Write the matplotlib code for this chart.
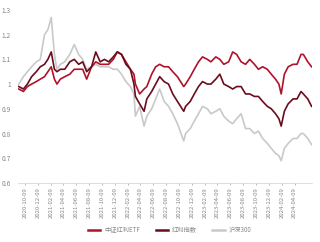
import matplotlib
matplotlib.use('Agg')
import matplotlib.pyplot as plt
import matplotlib.dates as mdates
import matplotlib.ticker as mticker
import pandas as pd

plt.rcParams['font.family'] = ['Noto Sans CJK SC', 'DejaVu Sans']

dates = pd.to_datetime([
    '2020-09-09', '2020-10-01', '2020-10-20', '2020-11-09', '2020-12-01', '2020-12-20',
    '2021-01-09', '2021-01-25', '2021-02-10', '2021-02-25', '2021-03-09', '2021-03-25',
    '2021-04-15', '2021-05-09', '2021-05-30', '2021-06-20', '2021-07-09', '2021-07-28',
    '2021-08-20', '2021-09-09', '2021-09-30', '2021-10-20', '2021-11-09', '2021-12-01',
    '2021-12-20', '2022-01-09', '2022-01-30', '2022-02-20', '2022-03-09', '2022-03-16',
    '2022-04-05', '2022-04-26', '2022-05-09', '2022-06-01', '2022-06-20', '2022-07-09',
    '2022-07-30', '2022-08-20', '2022-09-09', '2022-10-01', '2022-10-31', '2022-11-09',
    '2022-12-01', '2022-12-20', '2023-01-09', '2023-01-28', '2023-02-20', '2023-03-09',
    '2023-04-01', '2023-04-20', '2023-05-09', '2023-06-01', '2023-06-20', '2023-07-09',
    '2023-07-30', '2023-08-20', '2023-09-09', '2023-10-01', '2023-10-20', '2023-11-09',
    '2023-12-01', '2023-12-20', '2024-01-09', '2024-01-25', '2024-02-05', '2024-02-20',
    '2024-03-09', '2024-04-01', '2024-04-20', '2024-05-09', '2024-05-20', '2024-06-10',
    '2024-06-28'])

etf = [0.98, 0.97, 0.99, 1.00, 1.01, 1.02, 1.03, 1.05, 1.07, 1.02, 1.00, 1.02,
       1.03, 1.04, 1.06, 1.06, 1.06, 1.02, 1.07, 1.09, 1.08, 1.08, 1.08, 1.10,
       1.13, 1.12, 1.09, 1.06, 1.04, 1.00, 0.96, 0.98, 0.99, 1.04, 1.07, 1.08,
       1.07, 1.07, 1.05, 1.03, 0.99, 1.00, 1.03, 1.06, 1.09, 1.11, 1.10, 1.09,
       1.11, 1.10, 1.08, 1.09, 1.13, 1.12, 1.09, 1.08, 1.10, 1.08, 1.06, 1.07,
       1.06, 1.04, 1.02, 1.00, 0.96, 1.04, 1.07, 1.08, 1.08, 1.12, 1.12, 1.09,
       1.07]

index = [0.99, 0.98, 1.00, 1.03, 1.05, 1.07, 1.08, 1.10, 1.13, 1.06, 1.05, 1.06,
         1.06, 1.09, 1.10, 1.08, 1.09, 1.05, 1.07, 1.13, 1.09, 1.10, 1.09, 1.11,
         1.13, 1.12, 1.08, 1.06, 1.00, 0.95, 0.92, 0.89, 0.94, 0.97, 1.00, 1.03,
         1.01, 1.00, 0.96, 0.93, 0.89, 0.91, 0.93, 0.96, 0.99, 1.01, 1.00, 1.00,
         1.02, 1.04, 1.00, 0.99, 0.98, 0.99, 0.99, 0.96, 0.96, 0.95, 0.95, 0.93,
         0.91, 0.90, 0.88, 0.86, 0.83, 0.89, 0.92, 0.94, 0.94, 0.97, 0.96, 0.94,
         0.91]

hs300 = [1.00, 1.03, 1.05, 1.07, 1.09, 1.10, 1.20, 1.22, 1.27, 1.12, 1.06, 1.08,
         1.09, 1.12, 1.16, 1.12, 1.10, 1.06, 1.07, 1.08, 1.07, 1.07, 1.07, 1.06,
         1.06, 1.04, 1.01, 0.99, 0.96, 0.87, 0.91, 0.83, 0.87, 0.90, 0.94, 0.98,
         0.93, 0.91, 0.88, 0.84, 0.77, 0.80, 0.82, 0.85, 0.88, 0.91, 0.90, 0.88,
         0.89, 0.90, 0.87, 0.85, 0.84, 0.86, 0.88, 0.82, 0.82, 0.80, 0.81, 0.78,
         0.76, 0.74, 0.72, 0.71, 0.69, 0.74, 0.76, 0.78, 0.78, 0.80, 0.80, 0.78,
         0.755]

labels = ['中证红利ETF', '红利指数', '沪深300']
tick_dates = pd.date_range('2020-09-09', '2024-05-09', freq='2MS') + pd.Timedelta(days=8)

fig = plt.figure(figsize=(3.2, 2.42), dpi=100)
ax = fig.add_axes([0.056, 0.244, 0.919, 0.715])

ax.plot(dates, hs300, color='#c9c9c9', lw=1.2, label=labels[2])
ax.plot(dates, etf, color='#b0122b', lw=1.2, label=labels[0])
ax.plot(dates, index, color='#6a0c1c', lw=1.2, label=labels[1])

ax.set_ylim(0.6, 1.3)
ax.set_xlim(pd.Timestamp('2020-09-05'), pd.Timestamp('2024-06-30'))
ax.yaxis.set_major_locator(mticker.MultipleLocator(0.1))
ax.yaxis.set_major_formatter(mticker.FuncFormatter(lambda v, p: '%g' % round(v, 1)))
ax.set_xticks(tick_dates)
ax.xaxis.set_major_formatter(mdates.DateFormatter('%Y-%m-%d'))
ax.tick_params(axis='x', labelsize=4.3, labelrotation=90, colors='#888888', length=1.5, width=0.4, pad=1.5)
ax.tick_params(axis='y', labelsize=4.8, colors='#888888', length=0, pad=5)

for s in ['top', 'right', 'left']:
    ax.spines[s].set_visible(False)
ax.spines['bottom'].set_color('#d0d0d0')
ax.spines['bottom'].set_linewidth(0.5)

h, l = ax.get_legend_handles_labels()
order = [1, 2, 0]
leg = fig.legend([h[i] for i in order], [l[i] for i in order], loc='center', bbox_to_anchor=(0.53, 0.05),
                 ncol=3, frameon=False, fontsize=4.5, handlelength=2.0, columnspacing=2.5,
                 labelcolor='#888888', handletextpad=0.6)
for line in leg.get_lines():
    line.set_linewidth(1.8)

fig.savefig('out.png', dpi=100)
